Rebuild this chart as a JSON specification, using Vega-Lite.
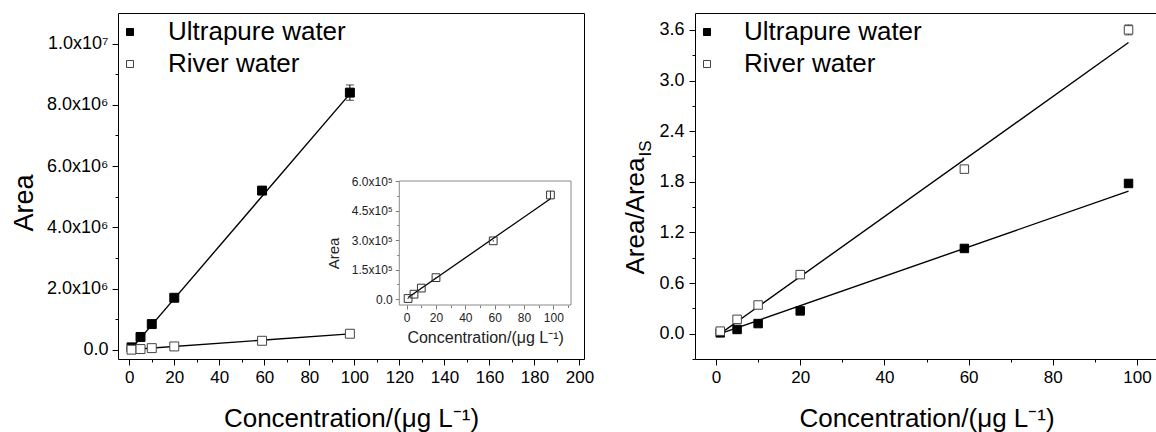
{
  "$schema": "https://vega.github.io/schema/vega-lite/v6.json",
  "background": "white",
  "padding": {"left": 9, "top": 12, "right": 0, "bottom": 0},
  "autosize": {"type": "pad"},
  "config": {
    "font": "Liberation Sans",
    "view": {"stroke": "black", "strokeWidth": 1},
    "axis": {"grid": false, "labelColor": "black", "tickColor": "black", "domainColor": "black", "titleColor": "black", "titleFontWeight": "normal", "labelFlush": false, "labelOverlap": false, "labelFont": "Liberation Sans", "titleFont": "Liberation Sans"},
    "legend": {"labelFont": "Liberation Sans", "labelColor": "black", "labelLimit": 0}
  },
  "datasets": {
    "left": [
      {"series": "Ultrapure water", "conc": 1, "area": 80000, "lo": 50000, "hi": 110000},
      {"series": "Ultrapure water", "conc": 5, "area": 420000, "lo": 380000, "hi": 460000},
      {"series": "Ultrapure water", "conc": 10, "area": 840000, "lo": 800000, "hi": 880000},
      {"series": "Ultrapure water", "conc": 20, "area": 1700000, "lo": 1650000, "hi": 1750000},
      {"series": "Ultrapure water", "conc": 59, "area": 5200000, "lo": 5080000, "hi": 5320000},
      {"series": "Ultrapure water", "conc": 98, "area": 8400000, "lo": 8150000, "hi": 8650000},
      {"series": "River water", "conc": 1, "area": 5000, "lo": -125000, "hi": 135000},
      {"series": "River water", "conc": 5, "area": 25000, "lo": -105000, "hi": 155000},
      {"series": "River water", "conc": 10, "area": 55000, "lo": -75000, "hi": 185000},
      {"series": "River water", "conc": 20, "area": 110000, "lo": -20000, "hi": 240000},
      {"series": "River water", "conc": 59, "area": 295000, "lo": 165000, "hi": 425000},
      {"series": "River water", "conc": 98, "area": 525000, "lo": 395000, "hi": 655000}
    ],
    "leftFit": [
      {"series": "Ultrapure water", "conc": 1, "area": 40000},
      {"series": "Ultrapure water", "conc": 98, "area": 8360000},
      {"series": "River water", "conc": 1, "area": 10000},
      {"series": "River water", "conc": 98, "area": 520000}
    ],
    "inset": [
      {"conc": 1, "area": 3000, "lo": 0, "hi": 6000},
      {"conc": 5, "area": 25000, "lo": 22000, "hi": 28000},
      {"conc": 10, "area": 56000, "lo": 53000, "hi": 59000},
      {"conc": 20, "area": 109000, "lo": 106000, "hi": 112000},
      {"conc": 59, "area": 296000, "lo": 292000, "hi": 300000},
      {"conc": 98, "area": 529000, "lo": 509000, "hi": 549000}
    ],
    "insetFit": [
      {"conc": 1, "area": 8000},
      {"conc": 98, "area": 510000}
    ],
    "right": [
      {"series": "Ultrapure water", "conc": 1, "ratio": 0.01, "lo": -0.01, "hi": 0.03},
      {"series": "Ultrapure water", "conc": 5, "ratio": 0.05, "lo": 0.03, "hi": 0.07},
      {"series": "Ultrapure water", "conc": 10, "ratio": 0.12, "lo": 0.1, "hi": 0.14},
      {"series": "Ultrapure water", "conc": 20, "ratio": 0.27, "lo": 0.25, "hi": 0.29},
      {"series": "Ultrapure water", "conc": 59, "ratio": 1.01, "lo": 0.99, "hi": 1.03},
      {"series": "Ultrapure water", "conc": 98, "ratio": 1.78, "lo": 1.76, "hi": 1.8},
      {"series": "River water", "conc": 1, "ratio": 0.03, "lo": -0.01, "hi": 0.07},
      {"series": "River water", "conc": 5, "ratio": 0.17, "lo": 0.13, "hi": 0.21},
      {"series": "River water", "conc": 10, "ratio": 0.34, "lo": 0.31, "hi": 0.37},
      {"series": "River water", "conc": 20, "ratio": 0.7, "lo": 0.68, "hi": 0.72},
      {"series": "River water", "conc": 59, "ratio": 1.95, "lo": 1.92, "hi": 1.98},
      {"series": "River water", "conc": 98, "ratio": 3.6, "lo": 3.54, "hi": 3.66}
    ],
    "rightFit": [
      {"series": "Ultrapure water", "conc": 1, "ratio": 0.0},
      {"series": "Ultrapure water", "conc": 98, "ratio": 1.69},
      {"series": "River water", "conc": 1, "ratio": 0.0},
      {"series": "River water", "conc": 98, "ratio": 3.45}
    ]
  },
  "hconcat": [
    {
      "width": 466,
      "height": 346,
      "layer": [
        {
          "layer": [
            {
              "data": {"name": "leftFit"},
              "mark": {"type": "line", "color": "black", "strokeWidth": 1.4},
              "encoding": {
                "x": {"field": "conc", "type": "quantitative", "scale": {"domain": [-5, 202], "nice": false, "zero": false},
                  "axis": {"orient": "bottom", "values": [0, 20, 40, 60, 80, 100, 120, 140, 160, 180, 200], "domain": false, "tickSize": 6, "labelFontSize": 17, "labelPadding": 4, "title": "Concentration/(μg L⁻¹)", "titleFontSize": 26, "titleY": 67, "titleBaseline": "alphabetic"}},
                "y": {"field": "area", "type": "quantitative", "scale": {"domain": [-300000, 11000000], "nice": false, "zero": false},
                  "axis": {"orient": "left", "values": [0, 2000000, 4000000, 6000000, 8000000, 10000000], "domain": false, "tickSize": 6, "labelFontSize": 18, "labelPadding": 4,
                    "labelExpr": "datum.value == 0 ? '0.0' : (datum.value == 10000000 ? '1.0x10⁷' : format(datum.value / 1000000, '.1f') + 'x10⁶')",
                    "title": "Area", "titleFontSize": 27, "titleX": -86, "titleY": 189.5, "titleBaseline": "alphabetic"}},
                "detail": {"field": "series"}
              }
            },
            {
              "data": {"name": "left"},
              "mark": {"type": "rule", "color": "black", "strokeWidth": 1},
              "encoding": {
                "x": {"field": "conc", "type": "quantitative", "axis": null},
                "y": {"field": "lo", "type": "quantitative", "axis": null},
                "y2": {"field": "hi"}
              }
            },
            {
              "data": {"name": "left"},
              "transform": [{"filter": "datum.series == 'Ultrapure water'"}, {"fold": ["lo", "hi"], "as": ["end", "val"]}],
              "mark": {"type": "tick", "orient": "horizontal", "size": 8, "thickness": 1, "color": "black"},
              "encoding": {
                "x": {"field": "conc", "type": "quantitative", "axis": null},
                "y": {"field": "val", "type": "quantitative", "axis": null}
              }
            },
            {
              "data": {"name": "left"},
              "mark": {"type": "point", "shape": "square", "filled": true, "size": 80, "strokeWidth": 1, "opacity": 1},
              "encoding": {
                "x": {"field": "conc", "type": "quantitative", "axis": null},
                "y": {"field": "area", "type": "quantitative", "axis": null},
                "fill": {"field": "series", "type": "nominal", "scale": {"domain": ["Ultrapure water", "River water"], "range": ["black", "white"]},
                  "legend": {"orient": "none", "legendX": -1, "legendY": 6, "title": null, "symbolType": "square", "symbolSize": 49, "symbolStrokeWidth": 1, "labelFontSize": 26, "labelOffset": 25, "labelLimit": 0, "rowPadding": 6, "padding": 0}},
                "stroke": {"field": "series", "type": "nominal", "scale": {"domain": ["Ultrapure water", "River water"], "range": ["black", "#444444"]},
                  "legend": {"orient": "none", "legendX": -1, "legendY": 6, "title": null, "symbolType": "square", "symbolSize": 49, "symbolStrokeWidth": 1, "labelFontSize": 26, "labelOffset": 25, "labelLimit": 0, "rowPadding": 6, "padding": 0}}
              }
            },
            {
              "data": {"name": "left"},
              "mark": {"type": "point", "opacity": 0},
              "encoding": {
                "x": {"field": "conc", "type": "quantitative",
                  "axis": {"orient": "bottom", "values": [10, 30, 50, 70, 90, 110, 130, 150, 170, 190], "domain": false, "labels": false, "tickSize": 3, "title": null}},
                "y": {"field": "area", "type": "quantitative",
                  "axis": {"orient": "left", "values": [1000000, 3000000, 5000000, 7000000, 9000000], "domain": false, "labels": false, "tickSize": 3, "title": null}}
              }
            }
          ],
          "resolve": {"axis": {"x": "independent", "y": "independent"}}
        },
        {
          "layer": [
            {
              "data": {"values": [{}]},
              "mark": {"type": "rect", "fill": "white", "stroke": "#8a8a8a", "strokeWidth": 1},
              "encoding": {
                "x": {"datum": -5, "type": "quantitative", "scale": {"domain": [-5, 112], "range": [281.3, 453], "nice": false, "zero": false}, "axis": null},
                "x2": {"datum": 112},
                "y": {"datum": -30000, "type": "quantitative", "scale": {"domain": [-30000, 600000], "range": [292, 168], "nice": false, "zero": false}, "axis": null},
                "y2": {"datum": 600000}
              }
            },
            {
              "data": {"name": "insetFit"},
              "mark": {"type": "line", "color": "black", "strokeWidth": 1.3},
              "encoding": {
                "x": {"field": "conc", "type": "quantitative",
                  "axis": {"orient": "bottom", "offset": -54, "values": [0, 20, 40, 60, 80, 100], "domain": false, "tickSize": 4, "tickColor": "#777777", "labelFontSize": 12, "labelPadding": 3, "labelColor": "#222222", "title": "Concentration/(μg L⁻¹)", "titleFontSize": 16, "titleColor": "#222222", "titleY": 37, "titleBaseline": "alphabetic"}},
                "y": {"field": "area", "type": "quantitative",
                  "axis": {"orient": "left", "offset": -281.3, "values": [0, 150000, 300000, 450000, 600000], "domain": false, "tickSize": 4, "tickColor": "#777777", "labelFontSize": 12, "labelPadding": 3, "labelColor": "#222222",
                    "labelExpr": "datum.value == 0 ? '0.0' : format(datum.value / 100000, '.1f') + 'x10⁵'",
                    "title": "Area", "titleFontSize": 15, "titleColor": "#222222", "titleX": -61, "titleY": 240, "titleBaseline": "alphabetic"}}
              }
            },
            {
              "data": {"name": "inset"},
              "mark": {"type": "rule", "color": "#333333", "strokeWidth": 1},
              "encoding": {
                "x": {"field": "conc", "type": "quantitative", "axis": null},
                "y": {"field": "lo", "type": "quantitative", "axis": null},
                "y2": {"field": "hi"}
              }
            },
            {
              "data": {"name": "inset"},
              "mark": {"type": "point", "shape": "square", "filled": false, "size": 60, "strokeWidth": 1, "color": "#333333", "opacity": 1},
              "encoding": {
                "x": {"field": "conc", "type": "quantitative", "axis": null},
                "y": {"field": "area", "type": "quantitative", "axis": null}
              }
            },
            {
              "data": {"name": "inset"},
              "mark": {"type": "point", "opacity": 0},
              "encoding": {
                "x": {"field": "conc", "type": "quantitative",
                  "axis": {"orient": "bottom", "offset": -54, "values": [10, 30, 50, 70, 90, 110], "domain": false, "labels": false, "tickSize": 2.5, "tickColor": "#777777", "title": null}},
                "y": {"field": "area", "type": "quantitative",
                  "axis": {"orient": "left", "offset": -281.3, "values": [75000, 225000, 375000, 525000], "domain": false, "labels": false, "tickSize": 2.5, "tickColor": "#777777", "title": null}}
              }
            }
          ],
          "resolve": {"axis": {"x": "independent", "y": "independent"}}
        }
      ],
      "resolve": {"scale": {"x": "independent", "y": "independent"}, "axis": {"x": "independent", "y": "independent"}}
    },
    {
      "width": 463,
      "height": 346,
      "view": {"stroke": null},
      "layer": [
        {
          "data": {"name": "rightFit"},
          "mark": {"type": "line", "color": "black", "strokeWidth": 1.4},
          "encoding": {
            "x": {"field": "conc", "type": "quantitative", "scale": {"domain": [-5, 105], "nice": false, "zero": false},
              "axis": {"orient": "bottom", "values": [0, 20, 40, 60, 80, 100], "domain": true, "tickSize": 6, "labelFontSize": 17, "labelPadding": 4, "title": "Concentration/(μg L⁻¹)", "titleFontSize": 26, "titleY": 67, "titleBaseline": "alphabetic"}},
            "y": {"field": "ratio", "type": "quantitative", "scale": {"domain": [-0.3, 3.8], "nice": false, "zero": false},
              "axis": {"orient": "left", "values": [0, 0.6, 1.2, 1.8, 2.4, 3.0, 3.6], "format": ".1f", "domain": true, "tickSize": 6, "labelFontSize": 18, "labelPadding": 5,
                "title": "Area/Area", "titleFontSize": 26, "titleX": -52, "titleY": 202.5, "titleBaseline": "alphabetic"}},
            "detail": {"field": "series"}
          }
        },
        {
          "data": {"name": "right"},
          "mark": {"type": "rule", "color": "black", "strokeWidth": 1},
          "encoding": {
            "x": {"field": "conc", "type": "quantitative", "axis": null},
            "y": {"field": "lo", "type": "quantitative", "axis": null},
            "y2": {"field": "hi"}
          }
        },
        {
          "data": {"name": "right"},
          "transform": [{"filter": "datum.series == 'River water'"}, {"fold": ["lo", "hi"], "as": ["end", "val"]}],
          "mark": {"type": "tick", "orient": "horizontal", "size": 8, "thickness": 1, "color": "#333333"},
          "encoding": {
            "x": {"field": "conc", "type": "quantitative", "axis": null},
            "y": {"field": "val", "type": "quantitative", "axis": null}
          }
        },
        {
          "data": {"name": "right"},
          "mark": {"type": "point", "shape": "square", "filled": true, "size": 72, "strokeWidth": 1, "opacity": 1},
          "encoding": {
            "x": {"field": "conc", "type": "quantitative", "axis": null},
            "y": {"field": "ratio", "type": "quantitative", "axis": null},
            "fill": {"field": "series", "type": "nominal", "scale": {"domain": ["Ultrapure water", "River water"], "range": ["black", "white"]},
              "legend": {"orient": "none", "legendX": -1, "legendY": 6, "title": null, "symbolType": "square", "symbolSize": 49, "symbolStrokeWidth": 1, "labelFontSize": 26, "labelOffset": 24, "labelLimit": 0, "rowPadding": 6, "padding": 0}},
            "stroke": {"field": "series", "type": "nominal", "scale": {"domain": ["Ultrapure water", "River water"], "range": ["black", "#444444"]},
              "legend": {"orient": "none", "legendX": -1, "legendY": 6, "title": null, "symbolType": "square", "symbolSize": 49, "symbolStrokeWidth": 1, "labelFontSize": 26, "labelOffset": 24, "labelLimit": 0, "rowPadding": 6, "padding": 0}}
          }
        },
        {
          "data": {"name": "right"},
          "mark": {"type": "point", "opacity": 0},
          "encoding": {
            "x": {"field": "conc", "type": "quantitative",
              "axis": {"orient": "bottom", "values": [10, 30, 50, 70, 90], "domain": false, "labels": false, "tickSize": 3, "title": null}},
            "y": {"field": "ratio", "type": "quantitative",
              "axis": {"orient": "left", "values": [-0.3, 0.3, 0.9, 1.5, 2.1, 2.7, 3.3], "domain": false, "labels": false, "tickSize": 3,
                "title": "IS", "titleFontSize": 17, "titleX": -45, "titleY": 135, "titleBaseline": "alphabetic"}}
          }
        },
        {
          "data": {"name": "right"},
          "mark": {"type": "point", "opacity": 0},
          "encoding": {
            "x": {"field": "conc", "type": "quantitative",
              "axis": {"orient": "top", "domain": true, "ticks": false, "labels": false, "title": null}},
            "y": {"field": "ratio", "type": "quantitative", "axis": null}
          }
        }
      ],
      "resolve": {"axis": {"x": "independent", "y": "independent"}}
    }
  ],
  "spacing": 111,
  "bounds": "flush",
  "resolve": {"scale": {"fill": "independent", "stroke": "independent"}, "legend": {"fill": "independent", "stroke": "independent"}}
}
